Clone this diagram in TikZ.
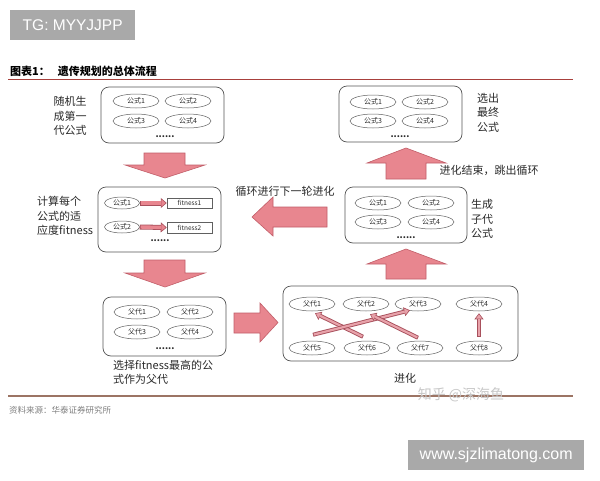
\documentclass[tikz,border=0pt]{standalone}
\usepackage{fontspec}
\setmainfont{Noto Sans CJK SC}
\newfontfamily\wmfont{Liberation Sans}
\usetikzlibrary{shapes.geometric,arrows.meta}
\definecolor{wmgray}{HTML}{A9A9A9}
\definecolor{rulered}{HTML}{A8403C}
\definecolor{rulebrown}{HTML}{9C7464}
\definecolor{pinkfill}{HTML}{E8868F}
\definecolor{pinkdraw}{HTML}{C25E69}
\definecolor{evodark}{HTML}{A8505C}
\definecolor{evolight}{HTML}{E8A2AA}
\definecolor{boxline}{HTML}{555555}
\definecolor{ellline}{HTML}{606060}
\definecolor{txt}{HTML}{2A2A2A}
\begin{document}
\begin{tikzpicture}[x=1pt,y=-1pt,
  group/.style={draw=boxline, line width=0.7pt, rounded corners=8pt, minimum width=123pt, minimum height=56pt, inner sep=0pt},
  formula/.style={ellipse, draw=ellline, line width=0.5pt, fill=white, minimum width=46pt, minimum height=14pt, inner sep=0pt, font=\fontsize{7}{8}\selectfont, text=txt},
  smallformula/.style={formula, minimum width=35pt, minimum height=12pt},
  fitbox/.style={draw=ellline, line width=0.5pt, fill=white, minimum width=45pt, minimum height=10.5pt, inner sep=0pt, font=\fontsize{6.5}{7}\selectfont, text=txt},
  dots/.style={font=\bfseries\fontsize{9}{9}\selectfont, inner sep=0pt, text=txt},
  lbl/.style={font=\fontsize{11}{14.5}\selectfont, text=txt, inner sep=0pt, align=center},
  blockarrow/.style={fill=pinkfill, draw=pinkdraw, line width=0.6pt, line join=miter},
  evo/.style={draw=evodark, line width=4pt, -{Triangle[length=6pt,width=9pt,line width=0.6pt,fill=evolight]},
    postaction={draw=evolight, line width=2.2pt, -, shorten >=5.4pt, shorten <=0.8pt}},
  fitarrow/.style={draw=evodark, line width=5pt, -{Triangle[length=6pt,width=10pt,line width=0.6pt,fill=pinkfill]},
    postaction={draw=pinkfill, line width=3.4pt, -, shorten >=5.4pt, shorten <=0.8pt}}
]
\useasboundingbox (0,0) rectangle (600,480);
\fill[white] (0,0) rectangle (600,480);

% watermarks
\node[fill=wmgray, minimum width=125pt, minimum height=30pt, inner sep=0pt, anchor=north west, text=white, font=\wmfont\fontsize{15.5}{16}\selectfont] (tg) at (10,10) {TG: MYYJJPP};
\node[fill=wmgray, minimum width=176pt, minimum height=30pt, inner sep=0pt, anchor=north west, text=white, font=\wmfont\fontsize{16}{16}\selectfont] (www) at (408,440) {www.sjzlimatong.com};

% title and rules
\node[anchor=west, inner sep=0pt, font=\bfseries\fontsize{11}{12}\selectfont, text=black] (title) at (10,71) {图表1：\hspace{8pt}遗传规划的总体流程};
\draw[rulered, line width=1pt] (8,79) -- (573,79);
\draw[rulebrown, line width=1.6pt] (8,396) -- (573,396);
\node[anchor=west, inner sep=0pt, font=\fontsize{8.5}{9}\selectfont, text=black!50] (src) at (9,410) {资料来源：华泰证券研究所};
\node[inner sep=0pt, font=\fontsize{14}{14}\selectfont, text=black!22] (zh) at (461,395) {知乎 @深海鱼};

% box 1: random generation
\node[group] (g1) at (162.5,115) {};
\node[formula] (a1) at (136,101) {公式1};
\node[formula] (a2) at (188,101) {公式2};
\node[formula] (a3) at (136,121) {公式3};
\node[formula] (a4) at (188,121) {公式4};
\node[dots] (ad) at (165,137) {......};
\node[lbl] (l1) at (70,116) {随机生\\成第一\\代公式};

% arrow down 1
\filldraw[blockarrow] (144,153) -- (185,153) -- (185,165) -- (205,165) -- (165,178) -- (125,165) -- (144,165) -- cycle;

% box 2: fitness
\node[group, minimum height=65pt] (g2) at (159.5,219.5) {};
\node[smallformula] (b1) at (122,203) {公式1};
\node[smallformula] (b2) at (122,227) {公式2};
\node[fitbox] (r1) at (189.5,203) {fitness1};
\node[fitbox] (r2) at (189.5,227.5) {fitness2};
\draw[fitarrow] (b1.east) -- (r1.west);
\draw[fitarrow] (b2.east) -- (r2.west);
\node[dots] (bd) at (160,241) {......};
\node[lbl, align=left, anchor=west] (l2) at (37,216) {计算每个\\公式的适\\应度fitness};

% arrow down 2
\filldraw[blockarrow] (144,260) -- (185,260) -- (185,273) -- (205,273) -- (165,287) -- (125,273) -- (144,273) -- cycle;

% box 3: parents
\node[group, minimum height=59pt] (g3) at (164.5,326.5) {};
\node[formula] (c1) at (137,312) {父代1};
\node[formula] (c2) at (190,312) {父代2};
\node[formula] (c3) at (137,332) {父代3};
\node[formula] (c4) at (190,332) {父代4};
\node[dots] (cd) at (165,348.5) {......};
\node[lbl, align=left, anchor=north west] (l3) at (113,360) {选择fitness最高的公\\式作为父代};

% arrow right
\filldraw[blockarrow] (234,313) -- (260,313) -- (260,303) -- (278,322.5) -- (260,342) -- (260,333) -- (234,333) -- cycle;

% box 4: evolution
\node[group, minimum width=235pt, minimum height=75pt] (g4) at (400.5,323.5) {};
\node[formula] (p1) at (312,304) {父代1};
\node[formula] (p2) at (366,304) {父代2};
\node[formula] (p3) at (418,304) {父代3};
\node[formula] (p4) at (479,304) {父代4};
\node[formula] (p5) at (312,348) {父代5};
\node[formula] (p6) at (367,348) {父代6};
\node[formula] (p7) at (420,348) {父代7};
\node[formula] (p8) at (479,348) {父代8};
\draw[evo] ([xshift=-4pt,yshift=4pt]p6.north) -- ([xshift=3pt,yshift=-2pt]p1.south);
\draw[evo] ([xshift=1pt,yshift=6pt]p5.north) -- ([xshift=-8pt,yshift=1pt]p3.south);
\draw[evo] ([xshift=-2pt,yshift=3pt]p7.north) -- ([xshift=4pt,yshift=-3pt]p2.south);
\draw[evo] ([yshift=4pt]p8.north) -- ([yshift=-2pt]p4.south);
\node[lbl] (l4) at (405,378) {进化};

% arrow up 2
\filldraw[blockarrow] (386,279) -- (386,264) -- (367,264) -- (406,249) -- (446,264) -- (426,264) -- (426,279) -- cycle;

% box 6: children
\node[group, minimum width=122pt] (g6) at (406,215) {};
\node[formula] (d1) at (378,203) {公式1};
\node[formula] (d2) at (431,203) {公式2};
\node[formula] (d3) at (378,222) {公式3};
\node[formula] (d4) at (431,222) {公式4};
\node[dots] (dd) at (406,237.5) {......};
\node[lbl] (l6) at (482,219) {生成\\子代\\公式};

% arrow left (loop)
\filldraw[blockarrow] (327,207) -- (273,207) -- (273,197) -- (252,217) -- (273,236) -- (273,227) -- (327,227) -- cycle;
\node[lbl] (l8) at (285,191) {循环进行下一轮进化};

% arrow up 1
\filldraw[blockarrow] (386,179) -- (386,163) -- (367,163) -- (406,148) -- (446,163) -- (426,163) -- (426,179) -- cycle;
\node[lbl] (l7) at (489,170) {进化结束，跳出循环};

% box 5: final
\node[group] (g5) at (400.5,114) {};
\node[formula] (f1) at (373,102) {公式1};
\node[formula] (f2) at (425,102) {公式2};
\node[formula] (f3) at (373,121) {公式3};
\node[formula] (f4) at (425,121) {公式4};
\node[dots] (fd) at (400,136.5) {......};
\node[lbl] (l5) at (488,112.5) {选出\\最终\\公式};
\end{tikzpicture}
\end{document}
